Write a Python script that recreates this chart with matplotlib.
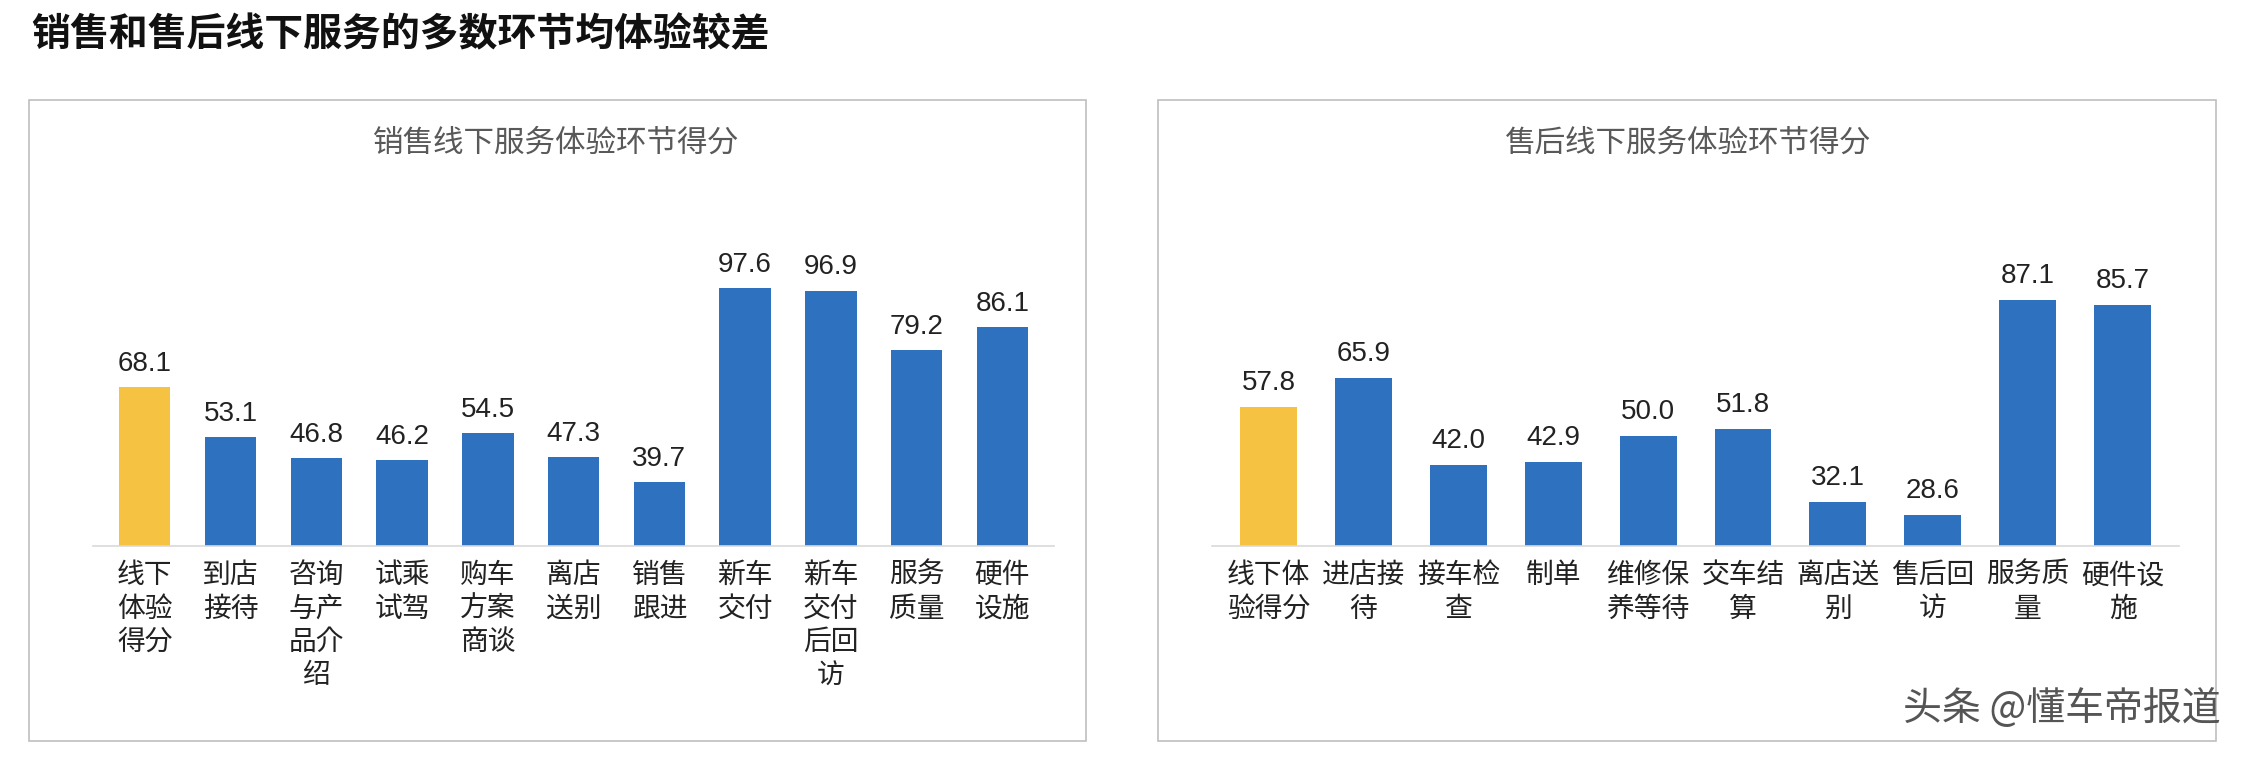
import glob
import matplotlib
matplotlib.use("Agg")
import matplotlib.pyplot as plt
from matplotlib import font_manager as fm
from matplotlib.patches import Rectangle

cjk_name = None
for f in glob.glob("/usr/share/fonts/**/*CJK*", recursive=True) + glob.glob("/usr/local/share/fonts/**/*CJK*", recursive=True):
    try:
        fm.fontManager.addfont(f)
    except Exception:
        pass
names = {f.name for f in fm.fontManager.ttflist}
for cand in ["Noto Sans CJK SC", "Noto Sans CJK JP", "Noto Sans CJK TC", "Noto Sans CJK KR",
             "Noto Sans SC", "Noto Sans CJK"]:
    if cand in names:
        cjk_name = cand
        break
if cjk_name is None:
    for n in names:
        if "CJK" in n:
            cjk_name = n
            break
plt.rcParams["font.family"] = [cjk_name or "DejaVu Sans", "DejaVu Sans"]

title = "销售和售后线下服务的多数环节均体验较差"
left_title = "销售线下服务体验环节得分"
left_cats = ["线下\n体验\n得分", "到店\n接待", "咨询\n与产\n品介\n绍", "试乘\n试驾", "购车\n方案\n商谈",
             "离店\n送别", "销售\n跟进", "新车\n交付", "新车\n交付\n后回\n访", "服务\n质量", "硬件\n设施"]
left_vals = [68.1, 53.1, 46.8, 46.2, 54.5, 47.3, 39.7, 97.6, 96.9, 79.2, 86.1]
right_title = "售后线下服务体验环节得分"
right_cats = ["线下体\n验得分", "进店接\n待", "接车检\n查", "制单", "维修保\n养等待", "交车结\n算",
              "离店送\n别", "售后回\n访", "服务质\n量", "硬件设\n施"]
right_vals = [57.8, 65.9, 42.0, 42.9, 50.0, 51.8, 32.1, 28.6, 87.1, 85.7]

BLUE = "#2E71BF"
YELLOW = "#F5C242"

fig = plt.figure(figsize=(22.48, 7.64), dpi=100)
fig.text(0.014, 0.955, title, fontsize=28, fontweight="bold", color="#111111", va="center")

for bx in (0.01276, 0.5153):
    fig.add_artist(Rectangle((bx, 0.030), 0.4705, 0.8386, transform=fig.transFigure,
                             fill=False, edgecolor="#BFBFBF", linewidth=1.2))

def panel(rect, cats, vals, ylo, ytop, sub, cx):
    ax = fig.add_axes(rect)
    colors = [YELLOW] + [BLUE] * (len(vals) - 1)
    x = range(len(vals))
    ax.bar(x, vals, width=0.6, color=colors)
    for i, v in zip(x, vals):
        ax.text(i, v + 3, f"{v:.1f}", ha="center", va="bottom", fontsize=20,
                color="#222222", fontfamily="Liberation Sans")
    ax.set_xlim(-0.6, len(vals) - 0.4)
    ax.set_ylim(ylo, ytop)
    ax.set_xticks(list(x))
    ax.set_xticklabels(cats, fontsize=20, color="#222222", linespacing=1.15, va="top")
    ax.tick_params(axis="x", length=0, pad=10)
    ax.set_yticks([])
    for s in ("top", "right", "left"):
        ax.spines[s].set_visible(False)
    ax.spines["bottom"].set_color("#D9D9D9")
    ax.spines["bottom"].set_linewidth(1.2)
    fig.text(cx, 0.812, sub, fontsize=22, color="#595959", ha="center", va="center")

panel([0.0415, 0.285, 0.4273, 0.4146], left_cats, left_vals, 20.6, 115.1, left_title, 0.2475)
panel([0.539, 0.285, 0.4305, 0.4146], right_cats, right_vals, 20.0, 106.2, right_title, 0.7507)

fig.text(0.988, 0.072, "头条 @懂车帝报道", fontsize=28, color="#555555", ha="right", va="center")

fig.savefig("out.png", dpi=100)
